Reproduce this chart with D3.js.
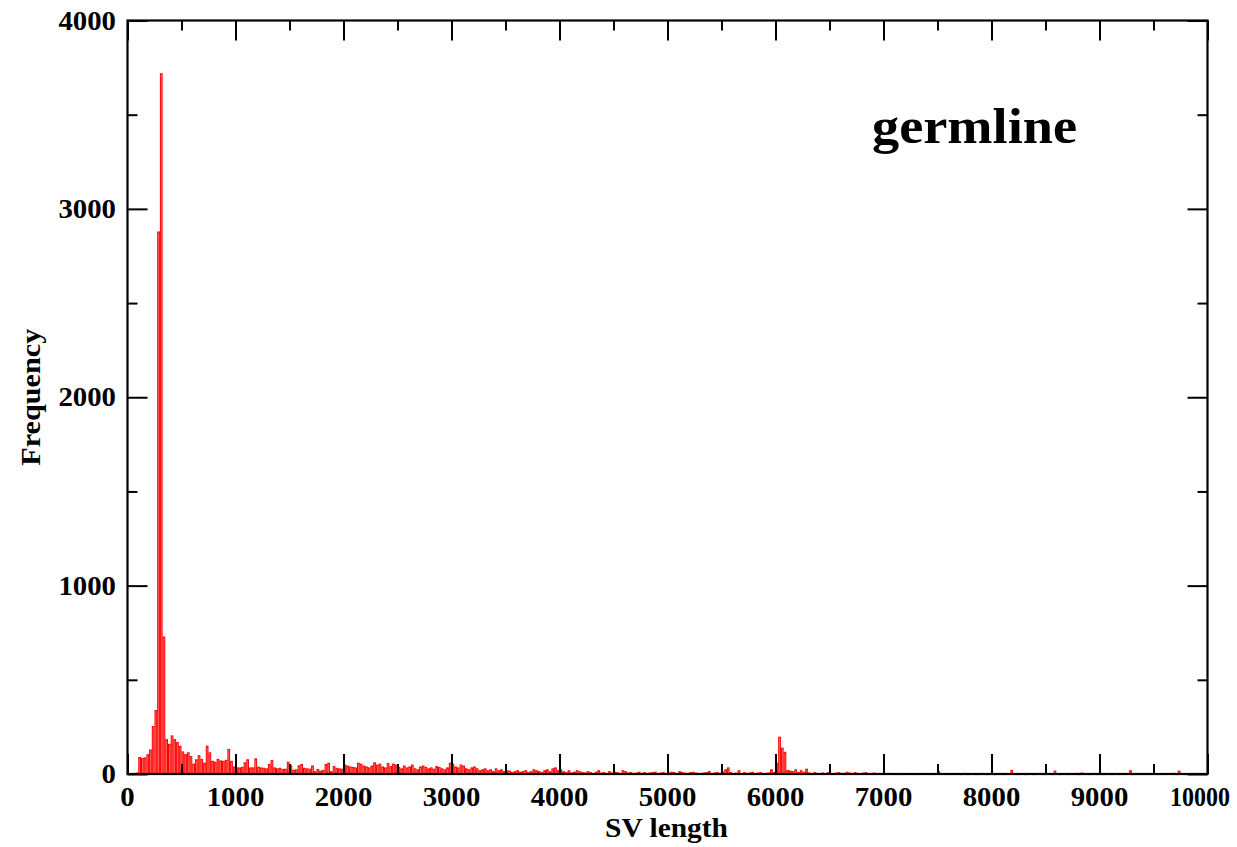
<!DOCTYPE html>
<html><head><meta charset="utf-8">
<script src="https://cdn.jsdelivr.net/npm/d3@7"></script>
<style>body{margin:0;background:#fff}svg{display:block}</style>
</head><body>
<script>
// ---- data ----
const binWidth = 25;          // SV length bin width
const binStart = 0;           // first bin edge
const freq = [
  // 0 - 975
  0,0,0,8,90,85,88,105,130,255,340,2880,3720,730,185,160,205,185,170,150,120,105,115,95,55,78,100,80,60,150,115,70,65,80,72,70,75,133,70,40,
  // 1000 - 1975
  35,35,38,62,78,35,35,83,39,35,33,30,53,74,35,30,33,27,28,65,47,22,25,46,53,33,30,28,45,15,27,18,22,53,60,15,42,33,30,28,
  // 2000 - 2975
  50,45,40,38,35,60,55,45,40,35,45,62,50,55,40,35,58,42,55,50,38,30,45,35,40,50,30,25,40,45,38,30,35,28,42,38,30,25,35,60,
  // 3000 - 3975
  55,40,35,50,45,30,25,35,40,30,20,25,30,20,25,15,30,20,25,15,20,18,10,15,20,12,15,20,10,15,25,20,15,10,20,25,15,30,35,20,
  // 4000 - 4975
  25,15,10,20,8,12,20,15,10,8,15,10,5,12,20,8,10,5,15,8,12,10,5,20,15,8,10,5,8,12,6,10,5,8,10,12,5,8,10,5,
  // 5000 - 5975
  8,12,10,5,15,10,8,5,10,12,8,6,5,8,10,15,5,8,10,6,12,25,35,10,5,8,20,5,10,6,8,12,5,8,10,5,6,8,25,10,
  // 6000 - 6975
  60,198,140,118,21,18,15,25,10,20,12,28,8,5,10,6,5,8,5,10,6,5,8,10,5,6,12,8,5,10,6,5,8,10,5,6,8,5,6,5,
  // 7000 - 7975
  5,3,6,4,5,3,2,5,4,3,5,2,4,3,6,4,3,5,2,4,15,3,5,4,2,3,5,4,2,3,6,2,4,3,2,5,4,3,2,4,
  // 8000 - 8975
  3,2,4,3,2,5,3,22,4,2,3,5,2,4,3,2,5,3,4,2,6,3,2,18,4,2,3,5,2,4,3,6,2,8,3,5,2,4,3,2,
  // 9000 - 9975
  4,2,3,5,2,4,3,2,5,3,4,20,2,3,2,4,3,2,5,3,4,2,3,5,2,4,3,6,2,18,3,2,0,0,0,0,0,0,0,0
];
const xDomain = [0, 10000];
const yDomain = [0, 4000];
const xMajor = [0,1000,2000,3000,4000,5000,6000,7000,8000,9000,10000];
const xTickLabels = ["0","1000","2000","3000","4000","5000","6000","7000","8000","9000","10000"];
const xMinor = [500,1500,2500,3500,4500,5500,6500,7500,8500,9500];
const yMajor = [0,1000,2000,3000,4000];
const yTickLabels = ["0","1000","2000","3000","4000"];
const yMinor = [500,1500,2500,3500];
const xTitle = "SV length";
const yTitle = "Frequency";
const panelLabel = "germline";

// ---- layout ----
const W = 1237, H = 847;
const L = 127.5, R = 1207.5, T = 20.5, B = 774;
const FONT = "'Liberation Serif','Times New Roman',serif";
const DIGIT = 14.4; // rendered width per digit in the reference

const svg = d3.select("body").append("svg").attr("width", W).attr("height", H);
svg.append("rect").attr("width", W).attr("height", H).attr("fill", "#fff");

const x = d3.scaleLinear().domain(xDomain).range([L, R]);
const y = d3.scaleLinear().domain(yDomain).range([B, T]);

const bins = freq.map((v, i) => ({x0: binStart + i*binWidth, x1: binStart + (i+1)*binWidth, v}));

svg.append("g").selectAll("rect").data(bins.filter(d => d.v > 0)).join("rect")
  .attr("x", d => x(d.x0) + 0.5)
  .attr("width", d => Math.max(0.5, x(d.x1) - x(d.x0) - 1))
  .attr("y", d => y(d.v) + 0.5)
  .attr("height", d => Math.max(0.5, y(0) - y(d.v) - 0.5))
  .attr("fill", "#ff7a7a")
  .attr("stroke", "#ff0000")
  .attr("stroke-width", 1);

// axes via d3 axis generators, ticks inward
function axisPair(gen, scale, vals, size, transform){
  const g = svg.append("g").attr("transform", transform)
    .call(gen(scale).tickValues(vals).tickSize(size).tickFormat(""));
  g.select(".domain").remove();
  g.selectAll(".tick line").attr("stroke", "#000").attr("stroke-width", 2);
  return g;
}
axisPair(d3.axisTop, x, xMajor, 20, `translate(0,${B})`);
axisPair(d3.axisTop, x, xMinor, 10, `translate(0,${B})`);
axisPair(d3.axisBottom, x, xMajor, 20, `translate(0,${T})`);
axisPair(d3.axisBottom, x, xMinor, 10, `translate(0,${T})`);
axisPair(d3.axisRight, y, yMajor, 20, `translate(${L},0)`);
axisPair(d3.axisRight, y, yMinor, 10, `translate(${L},0)`);
axisPair(d3.axisLeft, y, yMajor, 20, `translate(${R},0)`);
axisPair(d3.axisLeft, y, yMinor, 10, `translate(${R},0)`);

// frame
svg.append("rect").attr("x", L).attr("y", T).attr("width", R-L).attr("height", B-T)
  .attr("fill", "none").attr("stroke", "#000").attr("stroke-width", 2.2);

// tick labels (the last one is kept fully inside the page)
const lastIdx = xMajor.length - 1;
svg.append("g").selectAll("text").data(xMajor).join("text")
  .attr("x", (d, i) => i === lastIdx ? W - 7 : x(d)).attr("y", 806)
  .attr("text-anchor", (d, i) => i === lastIdx ? "end" : "middle")
  .attr("font-family", FONT).attr("font-weight", "bold").attr("font-size", 27)
  .attr("textLength", (d, i) => i === lastIdx ? 60 : xTickLabels[i].length * DIGIT)
  .attr("lengthAdjust", "spacingAndGlyphs")
  .text((d, i) => xTickLabels[i]);

svg.append("g").selectAll("text").data(yMajor).join("text")
  .attr("x", 116).attr("y", d => y(d) + 9)
  .attr("text-anchor", "end")
  .attr("font-family", FONT).attr("font-weight", "bold").attr("font-size", 27)
  .attr("textLength", (d, i) => yTickLabels[i].length * DIGIT)
  .attr("lengthAdjust", "spacingAndGlyphs")
  .text((d, i) => yTickLabels[i]);

// titles
svg.append("text").attr("x", 666.5).attr("y", 837).attr("text-anchor", "middle")
  .attr("font-family", FONT).attr("font-weight", "bold").attr("font-size", 28)
  .attr("textLength", 123).attr("lengthAdjust", "spacingAndGlyphs")
  .text(xTitle);
svg.append("text").attr("transform", `translate(40,${(T+B)/2}) rotate(-90)`)
  .attr("text-anchor", "middle")
  .attr("font-family", FONT).attr("font-weight", "bold").attr("font-size", 28)
  .attr("textLength", 137).attr("lengthAdjust", "spacingAndGlyphs")
  .text(yTitle);

svg.append("text").attr("x", 974.5).attr("y", 143).attr("text-anchor", "middle")
  .attr("font-family", FONT).attr("font-weight", "bold").attr("font-size", 50)
  .attr("textLength", 205).attr("lengthAdjust", "spacingAndGlyphs")
  .text(panelLabel);
</script>
</body></html>
